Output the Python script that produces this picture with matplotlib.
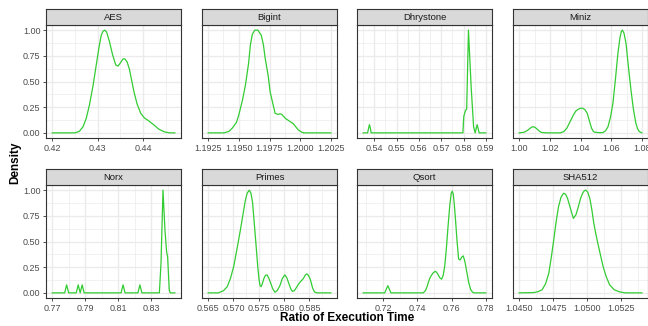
import matplotlib
matplotlib.use("Agg")
import matplotlib.pyplot as plt

plt.rcParams['font.family'] = ['Liberation Sans', 'DejaVu Sans']

# density curves (x, scaled density)
aes_x = [0.4200, 0.4250, 0.4260, 0.4268, 0.4275, 0.4282, 0.4290, 0.4297, 0.4303, 0.4308,
         0.4312, 0.4316, 0.4320, 0.4326, 0.4333, 0.4340, 0.4345, 0.4350, 0.4356, 0.4360,
         0.4365, 0.4370, 0.4375, 0.4380, 0.4387, 0.4395, 0.4403, 0.4413, 0.4423, 0.4435,
         0.4447, 0.4458, 0.4470]
aes_y = [0.0, 0.0, 0.015, 0.06, 0.14, 0.27, 0.46, 0.66, 0.83, 0.95,
         0.99, 1.0, 0.98, 0.89, 0.76, 0.66, 0.65, 0.68, 0.72, 0.72,
         0.69, 0.62, 0.51, 0.40, 0.28, 0.19, 0.145, 0.115, 0.08, 0.035,
         0.01, 0.0, 0.0]

bigint_x = [1.1925, 1.1938, 1.1942, 1.19446, 1.1948, 1.1950, 1.1953, 1.19554, 1.1958, 1.19594,
            1.1961, 1.1963, 1.19655, 1.19683, 1.1970, 1.19715, 1.1974, 1.19755, 1.1978, 1.19796,
            1.1982, 1.19836, 1.1985, 1.1988, 1.19909, 1.1993, 1.19944, 1.1997, 1.19984, 1.2001,
            1.2003, 1.2025]
bigint_y = [0.0, 0.0, 0.015, 0.045, 0.10, 0.175, 0.32, 0.466, 0.68, 0.854,
            0.96, 1.0, 1.0, 0.95, 0.86, 0.725, 0.55, 0.40, 0.27, 0.19,
            0.18, 0.185, 0.18, 0.14, 0.117, 0.10, 0.09, 0.05, 0.03, 0.008,
            0.0, 0.0]

dhry_x = [0.5350, 0.5370, 0.5375, 0.5378, 0.5382, 0.5386, 0.5797, 0.5801, 0.5809, 0.5814,
          0.5822, 0.5834, 0.5845, 0.5852, 0.5861, 0.5870, 0.5900]
dhry_y = [0.0, 0.0, 0.05, 0.08, 0.05, 0.0, 0.0, 0.16, 0.22, 0.23,
          1.0, 0.45, 0.06, 0.0, 0.08, 0.0, 0.0]

miniz_x = [1.0000, 1.0032, 1.0050, 1.0064, 1.0080, 1.0092, 1.0105, 1.0118, 1.0135, 1.0150,
           1.0180, 1.0267, 1.0290, 1.0310, 1.0330, 1.0353, 1.0370, 1.0385, 1.0400, 1.0413,
           1.0428, 1.0443, 1.0458, 1.0471, 1.0482, 1.0492, 1.0520, 1.0545, 1.0562, 1.0578,
           1.0595, 1.0610, 1.0626, 1.0642, 1.0655, 1.0665, 1.0672, 1.0682, 1.0695, 1.0710,
           1.0727, 1.0743, 1.0759, 1.0770, 1.0781, 1.0798]
miniz_y = [0.0, 0.006, 0.02, 0.035, 0.055, 0.06, 0.052, 0.035, 0.012, 0.003,
           0.0, 0.0, 0.012, 0.045, 0.105, 0.175, 0.215, 0.23, 0.24, 0.24,
           0.225, 0.19, 0.11, 0.045, 0.015, 0.006, 0.002, 0.003, 0.02, 0.06,
           0.16, 0.29, 0.52, 0.77, 0.92, 0.99, 1.0, 0.97, 0.87, 0.65,
           0.42, 0.23, 0.094, 0.04, 0.013, 0.0]

norx_x = [0.7700, 0.7776, 0.7788, 0.7800, 0.7846, 0.7858, 0.7870, 0.7882, 0.7894,
          0.8118, 0.8130, 0.8142, 0.8220, 0.8232, 0.8244, 0.8350, 0.8360, 0.8372,
          0.8384, 0.8394, 0.8400, 0.8410, 0.8416, 0.8444]
norx_y = [0.0, 0.0, 0.078, 0.0, 0.0, 0.078, 0.0, 0.078, 0.0,
          0.0, 0.078, 0.0, 0.0, 0.078, 0.0, 0.0, 0.29, 1.0,
          0.61, 0.40, 0.35, 0.03, 0.0, 0.0]

primes_x = [0.56500, 0.56700, 0.56800, 0.56877, 0.56940, 0.57006, 0.57070, 0.57136, 0.57190,
            0.57234, 0.57270, 0.57312, 0.57345, 0.57377, 0.57410, 0.57448, 0.57480, 0.57506,
            0.57525, 0.57545, 0.57570, 0.57600, 0.57630, 0.57662, 0.57700, 0.57734, 0.57775,
            0.57818, 0.57860, 0.57916, 0.57965, 0.58013, 0.58050, 0.58091, 0.58130, 0.58162,
            0.58200, 0.58240, 0.58290, 0.58325, 0.58380, 0.58420, 0.58448, 0.58480, 0.58520,
            0.58560, 0.58597, 0.58650, 0.58922]
primes_y = [0.0, 0.0, 0.02, 0.06, 0.14, 0.26, 0.43, 0.61, 0.77,
            0.90, 0.97, 1.0, 0.97, 0.88, 0.68, 0.45, 0.25, 0.126,
            0.07, 0.06, 0.09, 0.14, 0.17, 0.175, 0.14, 0.094, 0.04,
            0.006, 0.02, 0.07, 0.14, 0.175, 0.15, 0.094, 0.04, 0.015,
            0.02, 0.05, 0.09, 0.11, 0.14, 0.175, 0.185, 0.17, 0.126,
            0.05, 0.01, 0.0, 0.0]

qsort_x = [0.7084, 0.7210, 0.7220, 0.7228, 0.7236, 0.7246, 0.7434, 0.7447, 0.7457, 0.7466,
           0.7475, 0.7490, 0.7504, 0.7513, 0.7522, 0.7532, 0.7542, 0.7551, 0.7560, 0.7570,
           0.7579, 0.7590, 0.7598, 0.7604, 0.7610, 0.7616, 0.7623, 0.7632, 0.7641, 0.7650,
           0.7660, 0.7668, 0.7677, 0.7687, 0.7700, 0.7712, 0.7722, 0.7730, 0.7800]
qsort_y = [0.0, 0.0, 0.04, 0.07, 0.04, 0.0, 0.0, 0.02, 0.06, 0.11,
           0.15, 0.19, 0.21, 0.20, 0.175, 0.145, 0.133, 0.17, 0.26, 0.44,
           0.64, 0.86, 0.97, 0.99, 0.96, 0.86, 0.71, 0.50, 0.33, 0.32,
           0.35, 0.36, 0.31, 0.22, 0.10, 0.03, 0.008, 0.0, 0.0]

sha_x = [1.04500, 1.04609, 1.04640, 1.04669, 1.04695, 1.04718, 1.04736, 1.04754, 1.04772,
         1.04790, 1.04808, 1.04827, 1.04842, 1.04856, 1.04878, 1.04899, 1.04918, 1.04936,
         1.04952, 1.04967, 1.04980, 1.04991, 1.05005, 1.05020, 1.05035, 1.05049, 1.05065,
         1.05081, 1.05100, 1.05117, 1.05140, 1.05166, 1.05200, 1.05238, 1.05280, 1.05403]
sha_y = [0.0, 0.003, 0.012, 0.03, 0.09, 0.19, 0.34, 0.51, 0.69,
         0.84, 0.93, 0.97, 0.96, 0.92, 0.82, 0.725, 0.76, 0.84,
         0.92, 0.97, 0.995, 1.0, 0.98, 0.92, 0.81, 0.68, 0.57,
         0.47, 0.36, 0.26, 0.16, 0.078, 0.03, 0.01, 0.0, 0.0]

panels = ['AES', 'Bigint', 'Dhrystone', 'Miniz', 'Norx', 'Primes', 'Qsort', 'SHA512']
curves = [(aes_x, aes_y), (bigint_x, bigint_y), (dhry_x, dhry_y), (miniz_x, miniz_y),
          (norx_x, norx_y), (primes_x, primes_y), (qsort_x, qsort_y), (sha_x, sha_y)]
xticks = [[0.42, 0.43, 0.44],
          [1.1925, 1.1950, 1.1975, 1.2000, 1.2025],
          [0.54, 0.55, 0.56, 0.57, 0.58, 0.59],
          [1.00, 1.02, 1.04, 1.06, 1.08],
          [0.77, 0.79, 0.81, 0.83],
          [0.565, 0.570, 0.575, 0.580, 0.585],
          [0.72, 0.74, 0.76, 0.78],
          [1.0450, 1.0475, 1.0500, 1.0525]]
xfmt = ['%.2f', '%.4f', '%.2f', '%.2f', '%.2f', '%.3f', '%.2f', '%.4f']
yticks = [0.0, 0.25, 0.50, 0.75, 1.00]

W, H = 648, 326
fig = plt.figure(figsize=(W / 100, H / 100), dpi=100)

lefts = [46, 202, 357, 513]
pw = 135
rows = [(9, 25, 138), (169, 185, 298)]  # strip top, panel top, panel bottom
grid_c = '#EBEBEB'
edge_c = '#333333'

for i, name in enumerate(panels):
    r, c = divmod(i, 4)
    st, pt, pb = rows[r]
    x0 = lefts[c]
    ax = fig.add_axes([x0 / W, 1 - pb / H, pw / W, (pb - pt) / H])
    sx = fig.add_axes([x0 / W, 1 - pt / H, pw / W, (pt - st) / H])

    xs, ys = curves[i]
    lo, hi = min(xs), max(xs)
    pad = (hi - lo) * 0.05
    ax.set_xlim(lo - pad, hi + pad)
    ax.set_ylim(-0.05, 1.05)

    # grid: major + minor
    tk = xticks[i]
    step = tk[1] - tk[0]
    minors = [t + step / 2 for t in [tk[0] - step] + tk]
    for m in minors:
        ax.axvline(m, color=grid_c, lw=0.5, zorder=0)
    for t in tk:
        ax.axvline(t, color=grid_c, lw=1.0, zorder=0)
    for m in [0.125, 0.375, 0.625, 0.875]:
        ax.axhline(m, color=grid_c, lw=0.5, zorder=0)
    for t in yticks:
        ax.axhline(t, color=grid_c, lw=1.0, zorder=0)

    ax.plot(xs, ys, color='#33CC33', lw=0.9, zorder=3, solid_joinstyle='round')

    ax.set_xticks(tk)
    ax.set_xticklabels([xfmt[i] % t for t in tk])
    ax.tick_params(axis='x', labelsize=6.5, colors=edge_c, labelcolor='#4D4D4D',
                   length=2.5, width=0.6, pad=2)
    if c == 0:
        ax.set_yticks(yticks)
        ax.set_yticklabels(['%.2f' % t for t in yticks])
        ax.tick_params(axis='y', labelsize=6.5, colors=edge_c, labelcolor='#4D4D4D',
                       length=2.5, width=0.6, pad=1.5)
    else:
        ax.set_yticks([])
    for s in ax.spines.values():
        s.set_color(edge_c)
        s.set_linewidth(0.8)

    sx.set_facecolor('#D9D9D9')
    sx.set_xticks([])
    sx.set_yticks([])
    for s in sx.spines.values():
        s.set_color(edge_c)
        s.set_linewidth(0.8)
    sx.text(0.5, 0.45, name, ha='center', va='center', fontsize=6.8,
            color='#1A1A1A', transform=sx.transAxes)

fig.text(347 / W, 1 - 318 / H, 'Ratio of Execution Time', ha='center', va='center',
         fontsize=8.5, fontweight='bold')
fig.text(15 / W, 1 - 163 / H, 'Density', ha='center', va='center', rotation=90,
         fontsize=8.5, fontweight='bold')

fig.savefig('out.png', dpi=100)
